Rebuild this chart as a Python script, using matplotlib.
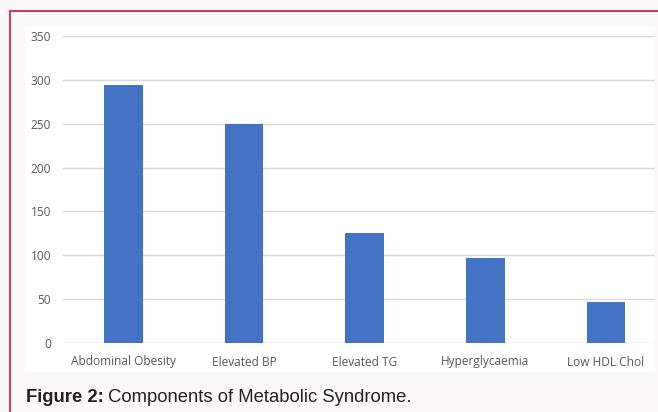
import matplotlib
matplotlib.use("Agg")
import matplotlib.pyplot as plt
from matplotlib.patches import Rectangle
from matplotlib.lines import Line2D

categories = ["Abdominal Obesity", "Elevated BP", "Elevated TG", "Hyperglycaemia", "Low HDL Chol"]
values = [294, 250, 125, 97, 47]
yticks = [0, 50, 100, 150, 200, 250, 300, 350]

W, H = 658, 412
fig = plt.figure(figsize=(W / 100, H / 100), dpi=100)
fig.patch.set_facecolor("#fbf8f9")

# white chart panel
fig.add_artist(Rectangle((25 / W, 1 - 372 / H), (655 - 25) / W, (372 - 27) / H,
                         transform=fig.transFigure, facecolor="white", edgecolor="none", zorder=0))
# border lines (left & top)
border = "#c4406a"
fig.add_artist(Line2D([10 / W, 10 / W], [0, 1 - 11 / H], transform=fig.transFigure, color=border, lw=1.5))
fig.add_artist(Line2D([10 / W, 1], [1 - 11 / H, 1 - 11 / H], transform=fig.transFigure, color=border, lw=1.5))

ax = fig.add_axes([63 / W, 1 - 343 / H, (655 - 63) / W, (343 - 36) / H])
ax.set_facecolor("none")
x = list(range(len(categories)))
ax.bar(x, values, width=0.32, color="#4472c4", zorder=3)
ax.set_ylim(0, 350)
ax.set_xlim(-0.5, 4.5 - 11.3 / 120.6)
ax.set_yticks(yticks)
ax.set_xticks(x)
ax.set_xticklabels(categories)
for s in ax.spines.values():
    s.set_visible(False)
ax.grid(axis="y", color="#d9d9d9", lw=1, zorder=0)
ax.set_axisbelow(True)
ax.tick_params(length=0, labelsize=8.6, labelcolor="#595959")
ax.tick_params(axis="y", pad=8.5)
ax.tick_params(axis="x", pad=9)
for lab in ax.get_xticklabels() + ax.get_yticklabels():
    lab.set_family("Open Sans")

# caption
fig.canvas.draw()
r = fig.canvas.get_renderer()
t1 = fig.text(26 / W, 1 - 398 / H, "Figure 2:", fontsize=13.3, fontweight="bold",
              family="Liberation Sans", color="#222222", va="center")
bb = t1.get_window_extent(r)
fig.text((bb.x1 + 4) / W, 1 - 398 / H, "Components of Metabolic Syndrome.", fontsize=13.3,
         family="Liberation Sans", color="#222222", va="center")

fig.savefig("out.png", dpi=100, facecolor=fig.get_facecolor())
